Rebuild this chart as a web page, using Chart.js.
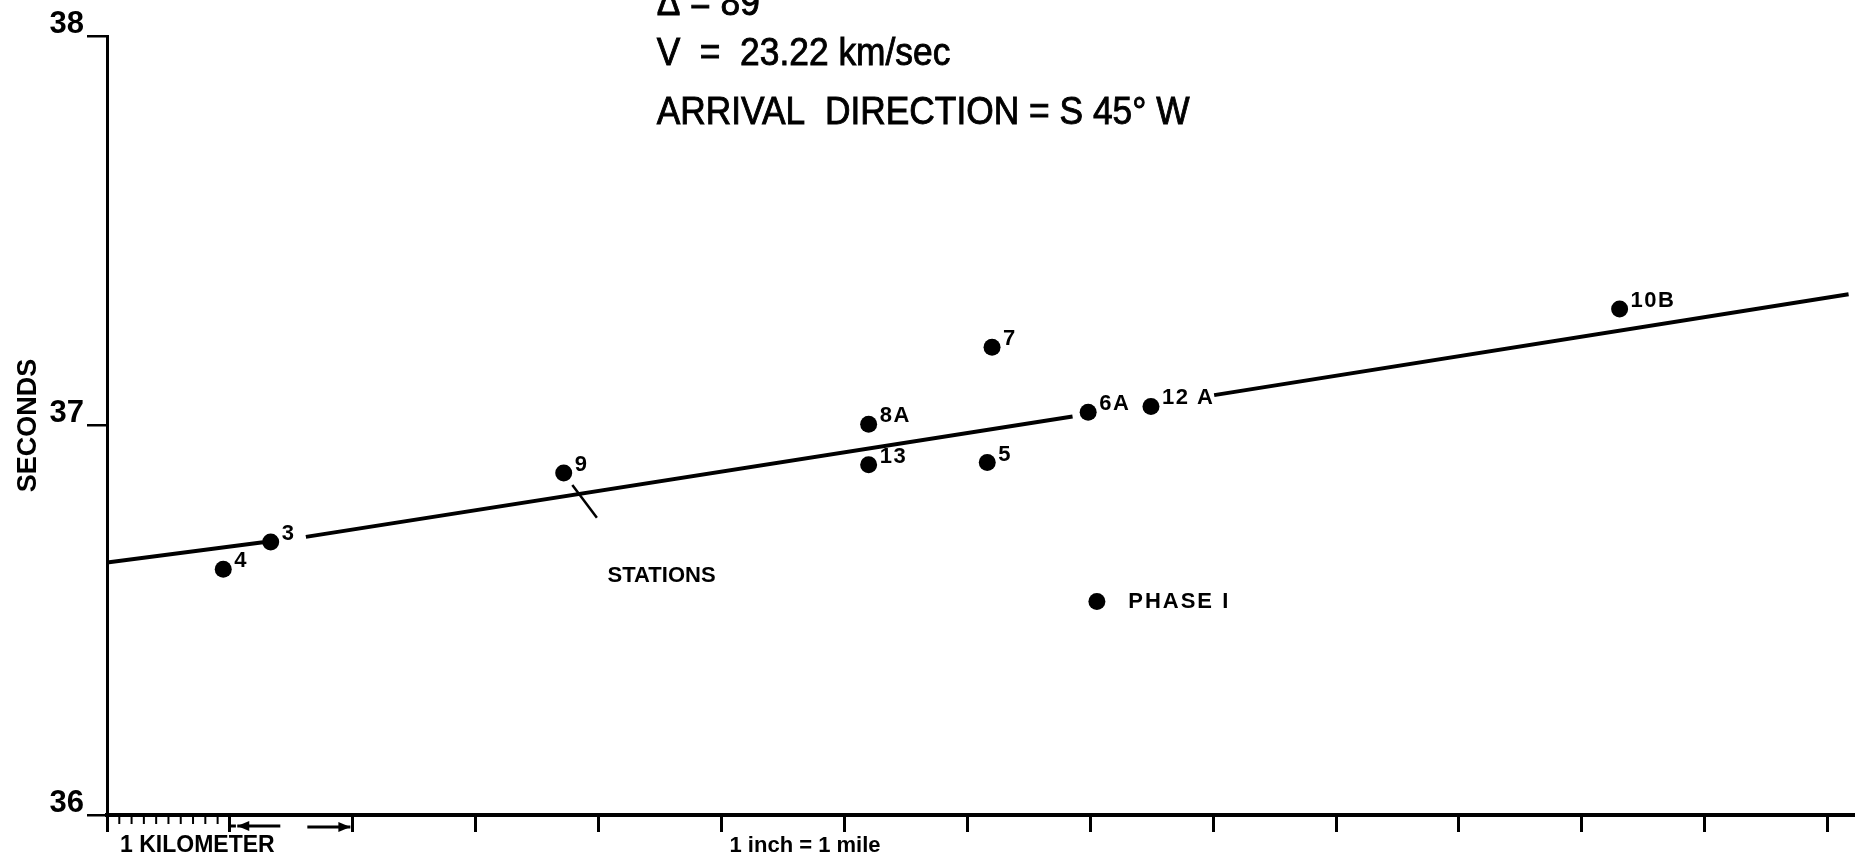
<!DOCTYPE html>
<html>
<head>
<meta charset="utf-8">
<title>Arrival times across the array</title>
<script src="https://cdn.jsdelivr.net/npm/chart.js@4.4.1/dist/chart.umd.min.js"></script>
<style>
  html, body { margin: 0; padding: 0; background: #fff; }
  #wrap { width: 1862px; height: 857px; }
</style>
</head>
<body>
<div id="wrap"><canvas id="plot"></canvas></div>
<script>
const stationNames = ["4", "3", "9", "8A", "13", "7", "5", "6A", "12 A", "10B"];
const stationDist = [0.946, 1.332, 3.716, 6.197, 6.197, 7.201, 7.162, 7.983, 8.494, 12.307];
const stationSec = [36.631, 36.701, 36.878, 37.003, 36.899, 37.201, 36.905, 37.034, 37.049, 37.299];

// fitted line, broken where it passes the labels "3", "6A" and "12 A"
const fitDist = [0, 1.27, 1.27, 1.618, 7.856, 7.856, 9.008, 14.17];
const fitSec = [36.648, 36.700, null, 36.714, 37.023, null, 37.078, 37.337];

// short pointer from the STATIONS note up to station 9
const pointerDist = [3.786, 3.986];
const pointerSec = [36.847, 36.763];

const distTicks = [0, 1, 2, 3, 4, 5, 6, 7, 8, 9, 10, 11, 12, 13, 14];
const kmTicks = [0.1, 0.2, 0.3, 0.4, 0.5, 0.6, 0.7, 0.8, 0.9];
const secondTicks = [36, 37, 38];

const headerLines = ["Δ = 89°", "V  =  23.22 km/sec", "ARRIVAL  DIRECTION = S 45° W"];

const FAMILY = "'Liberation Sans', Arial, sans-serif";
Chart.defaults.font.family = FAMILY;
Chart.defaults.color = "#000";

const toPoints = (xs, ys) => xs.map((v, i) => ({ x: v, y: ys[i] }));

function arrow(ctx, x1, x2, y, headAtStart) {
  ctx.beginPath();
  ctx.moveTo(x1, y);
  ctx.lineTo(x2, y);
  ctx.stroke();
  const hx = headAtStart ? x1 : x2;
  const dir = headAtStart ? 1 : -1;
  ctx.beginPath();
  ctx.moveTo(hx, y);
  ctx.lineTo(hx + dir * 12, y - 5);
  ctx.lineTo(hx + dir * 12, y + 5);
  ctx.closePath();
  ctx.fill();
}

const annotate = {
  id: "annotate",
  afterDraw(chart) {
    const { ctx, chartArea, scales: { x, y } } = chart;
    ctx.save();
    ctx.fillStyle = "#000";
    ctx.strokeStyle = "#000";

    // station names beside the dots
    ctx.font = "bold 22px " + FAMILY;
    ctx.textBaseline = "middle";
    ctx.letterSpacing = "1.5px";
    chart.getDatasetMeta(0).data.forEach((pt, i) => {
      ctx.fillText(stationNames[i], pt.x + 11, pt.y - 8);
    });
    ctx.letterSpacing = "0px";

    // header block, lettering is a little narrower and heavier than the font
    ctx.font = "38px " + FAMILY;
    ctx.textBaseline = "alphabetic";
    ctx.lineWidth = 0.9;
    const hx = x.getPixelForValue(4.472);
    [38.054, 37.925, 37.774].forEach((v, i) => {
      ctx.save();
      ctx.translate(hx, y.getPixelForValue(v));
      ctx.scale(0.93, 1);
      ctx.fillText(headerLines[i], 0, 0);
      ctx.strokeText(headerLines[i], 0, 0);
      ctx.restore();
    });

    // STATIONS note
    ctx.font = "bold 22px " + FAMILY;
    ctx.textBaseline = "middle";
    ctx.fillText("STATIONS", x.getPixelForValue(4.073), y.getPixelForValue(36.614));

    // key
    const ky = y.getPixelForValue(36.548);
    ctx.beginPath();
    ctx.arc(x.getPixelForValue(8.054), ky, 8.5, 0, Math.PI * 2);
    ctx.fill();
    ctx.letterSpacing = "2px";
    ctx.fillText("PHASE I", x.getPixelForValue(8.309), ky);
    ctx.letterSpacing = "0px";

    // kilometre subdivisions and the scale arrows
    const b = chartArea.bottom;
    ctx.lineWidth = 2;
    kmTicks.forEach((v) => {
      const px = x.getPixelForValue(v);
      ctx.beginPath();
      ctx.moveTo(px, b + 1);
      ctx.lineTo(px, b + 9);
      ctx.stroke();
    });
    ctx.lineWidth = 3;
    const k1 = x.getPixelForValue(1);
    ctx.beginPath();
    ctx.moveTo(k1, b + 11);
    ctx.lineTo(k1 + 6, b + 11);
    ctx.stroke();
    arrow(ctx, x.getPixelForValue(1.06), x.getPixelForValue(1.41), b + 11, true);
    arrow(ctx, x.getPixelForValue(1.63), x.getPixelForValue(1.98), b + 12, false);

    ctx.font = "bold 23px " + FAMILY;
    ctx.textBaseline = "alphabetic";
    ctx.fillText("1 KILOMETER", x.getPixelForValue(0.106), b + 37);
    ctx.font = "bold 22px " + FAMILY;
    ctx.fillText("1 inch = 1 mile", x.getPixelForValue(5.065), b + 37);
    ctx.restore();
  }
};

new Chart(document.getElementById("plot"), {
  type: "scatter",
  data: {
    datasets: [
      {
        label: "Stations",
        data: toPoints(stationDist, stationSec),
        backgroundColor: "#000",
        borderWidth: 0,
        pointRadius: 8.5,
        pointHoverRadius: 8.5,
      },
      {
        label: "Fit",
        data: toPoints(fitDist, fitSec),
        showLine: true,
        spanGaps: false,
        borderColor: "#000",
        borderWidth: 4,
        pointRadius: 0,
      },
      {
        label: "Pointer",
        data: toPoints(pointerDist, pointerSec),
        showLine: true,
        borderColor: "#000",
        borderWidth: 2.5,
        pointRadius: 0,
      },
    ],
  },
  options: {
    responsive: true,
    maintainAspectRatio: false,
    animation: false,
    layout: { padding: { top: 36, right: 7, left: 0, bottom: 0 } },
    plugins: { legend: { display: false }, tooltip: { enabled: false } },
    scales: {
      x: {
        type: "linear",
        min: 0,
        max: 14.21,
        afterBuildTicks: (s) => { s.ticks = distTicks.map((v) => ({ value: v })); },
        afterFit: (s) => { s.height = 42; },
        ticks: { display: false },
        grid: { drawOnChartArea: false, tickLength: 17, color: "#000", lineWidth: 3 },
        border: { color: "#000", width: 4 },
      },
      y: {
        type: "linear",
        min: 36,
        max: 38,
        afterBuildTicks: (s) => { s.ticks = secondTicks.map((v) => ({ value: v })); },
        afterFit: (s) => { s.width = 107; },
        ticks: {
          color: "#000",
          font: { size: 31, weight: "bold" },
          padding: 3,
          labelOffset: -12,
        },
        grid: { drawOnChartArea: false, tickLength: 20, color: "#000", lineWidth: 2.5 },
        border: { color: "#000", width: 3 },
        title: {
          display: true,
          text: "SECONDS",
          color: "#000",
          font: { size: 27, weight: "bold" },
          padding: { top: 12, bottom: 0 },
        },
      },
    },
  },
  plugins: [annotate],
});
</script>
</body>
</html>
